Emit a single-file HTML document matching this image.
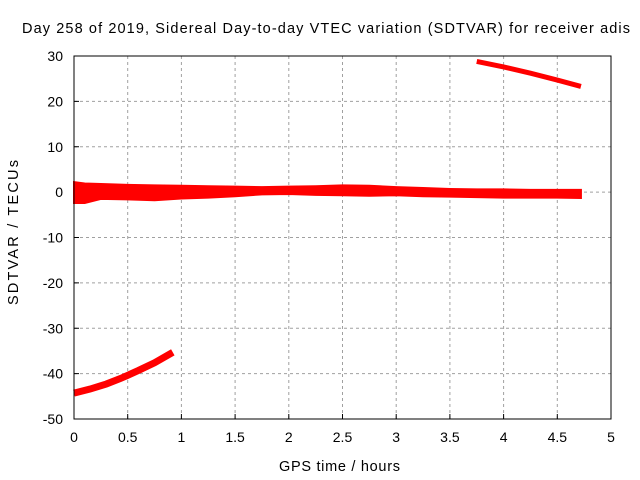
<!DOCTYPE html>
<html><head><meta charset="utf-8"><style>
body{margin:0;background:#fff}
svg{display:block;font-family:"Liberation Sans",sans-serif}
</style></head><body>
<svg id="chart" width="640" height="480" viewBox="0 0 640 480">
<rect width="640" height="480" fill="#fff"/>
<text x="22" y="33" font-size="14.5" textLength="608" lengthAdjust="spacing">Day 258 of 2019, Sidereal Day-to-day VTEC variation (SDTVAR) for receiver adis</text>
<g id="grid"></g><g id="ticks"></g><g id="series"></g>
<rect x="74" y="56" width="537" height="363" fill="none" stroke="#000" stroke-width="1"/>
<text x="279" y="471" font-size="14.5" textLength="121" lengthAdjust="spacing">GPS time / hours</text>
<text transform="translate(18,305) rotate(-90)" font-size="14.5" textLength="145" lengthAdjust="spacing">SDTVAR / TECUs</text>
</svg>
<script>
const xTicks=[0,0.5,1,1.5,2,2.5,3,3.5,4,4.5,5];
const yTicks=[-50,-40,-30,-20,-10,0,10,20,30];
const bandHours=[0,0.1,0.25,0.5,0.75,1,1.25,1.5,1.75,2,2.25,2.5,2.75,3,3.25,3.5,3.75,4,4.25,4.5,4.72];
const bandUpper=[2.2,1.9,1.8,1.6,1.5,1.4,1.3,1.2,1.1,1.2,1.3,1.5,1.4,1.1,0.9,0.7,0.6,0.6,0.5,0.5,0.5];
const bandLower=[-2.4,-2.4,-1.5,-1.6,-1.8,-1.4,-1.2,-0.9,-0.5,-0.4,-0.6,-0.7,-0.8,-0.7,-0.9,-1.0,-1.1,-1.2,-1.2,-1.2,-1.3];
const lowHours=[0,0.15,0.3,0.45,0.6,0.75,0.92];
const lowValues=[-44.3,-43.4,-42.3,-40.9,-39.3,-37.6,-35.3];
const highHours=[3.75,4,4.25,4.5,4.72];
const highValues=[28.8,27.6,26.2,24.7,23.3];
const X=v=>74+v*537/5, Y=v=>56+(30-v)*363/80;
const NS="http://www.w3.org/2000/svg";
function mk(tag,at,parent){const e=document.createElementNS(NS,tag);for(const k in at)e.setAttribute(k,at[k]);document.getElementById(parent).appendChild(e);return e;}
xTicks.forEach(t=>{
 if(t>0&&t<5){const g=mk('line',{x1:X(t),x2:X(t),y1:56,y2:419,stroke:'#a0a0a0','stroke-dasharray':'3,3'},'grid');
 
 }
 const tk=mk('line',{x1:X(t),x2:X(t),y1:419,y2:414,stroke:'#000'},'ticks');
 
 
 const tx=mk('text',{x:X(t),y:442,'font-size':14,'text-anchor':'middle'},'ticks');tx.textContent=t;
 
 
});
yTicks.forEach(t=>{
 if(t>-50&&t<30){const g=mk('line',{x1:74,x2:611,y1:Y(t),y2:Y(t),stroke:'#a0a0a0','stroke-dasharray':'3,3'},'grid');
 
 }
 const tk=mk('line',{x1:74,x2:79,y1:Y(t),y2:Y(t),stroke:'#000'},'ticks');
 
 
 const tx=mk('text',{x:63,y:Y(t)+5,'font-size':14,'text-anchor':'end'},'ticks');tx.textContent=t;
 
 
});
let pts=bandHours.map((h,i)=>X(h)+','+Y(bandUpper[i]));
pts=pts.concat(bandHours.map((h,i)=>X(h)+','+Y(bandLower[i])).reverse());
const band=mk('polygon',{points:pts.join(' '),fill:'#ff0000',stroke:'#ff0000','stroke-width':2},'series');


const low=mk('polyline',{points:lowHours.map((h,i)=>X(h)+','+Y(lowValues[i])).join(' '),fill:'none',stroke:'#ff0000','stroke-width':7},'series');


const high=mk('polyline',{points:highHours.map((h,i)=>X(h)+','+Y(highValues[i])).join(' '),fill:'none',stroke:'#ff0000','stroke-width':5},'series');


</script>
</body></html>
